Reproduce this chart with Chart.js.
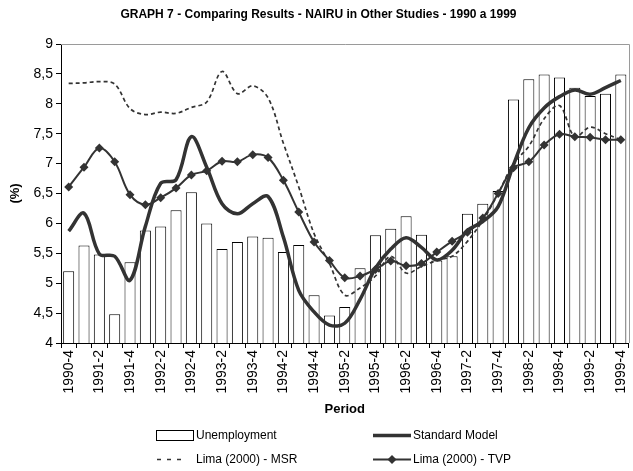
<!DOCTYPE html>
<html>
<head>
<meta charset="utf-8">
<script src="https://cdn.jsdelivr.net/npm/chart.js@4.4.1/dist/chart.umd.min.js"></script>
<style>
html,body{margin:0;padding:0;background:#fff;}
#wrap{width:633px;height:471px;}
</style>
</head>
<body>
<div id="wrap"><canvas id="c" width="633" height="471"></canvas></div>
<script>
// ---- data ----
const periods = ['1990-4',
  '1991-1','1991-2','1991-3','1991-4',
  '1992-1','1992-2','1992-3','1992-4',
  '1993-1','1993-2','1993-3','1993-4',
  '1994-1','1994-2','1994-3','1994-4',
  '1995-1','1995-2','1995-3','1995-4',
  '1996-1','1996-2','1996-3','1996-4',
  '1997-1','1997-2','1997-3','1997-4',
  '1998-1','1998-2','1998-3','1998-4',
  '1999-1','1999-2','1999-3','1999-4'];

const unemployment = [5.20, 5.63, 5.48, 4.48, 5.35, 5.88, 5.95, 6.22, 6.52, 6.00,
  5.57, 5.69, 5.78, 5.76, 5.52, 5.64, 4.80, 4.46, 4.60, 5.25,
  5.80, 5.91, 6.12, 5.81, 5.38, 5.45, 6.16, 6.33, 6.54, 8.07,
  8.41, 8.49, 8.44, 8.27, 8.13, 8.17, 8.49];

const standardModel = [5.87, 6.17, 5.49, 5.45, 5.05, 5.95, 6.67, 6.73, 7.45, 6.94,
  6.33, 6.16, 6.33, 6.45, 5.77, 4.88, 4.52, 4.30, 4.33, 4.73,
  5.25, 5.57, 5.76, 5.60, 5.39, 5.55, 5.88, 6.03, 6.28, 6.98,
  7.60, 7.93, 8.12, 8.23, 8.16, 8.27, 8.39];

const limaMSR = [8.34, 8.35, 8.37, 8.33, 7.92, 7.82, 7.86, 7.84, 7.94, 8.03,
  8.54, 8.17, 8.30, 8.10, 7.34, 6.61, 5.83, 5.33, 4.80, 4.92,
  5.12, 5.45, 5.17, 5.28, 5.38, 5.45, 5.70, 6.05, 6.50, 7.00,
  7.29, 7.75, 7.97, 7.45, 7.61, 7.50, 7.40];

const limaTVP = [6.61, 6.94, 7.26, 7.03, 6.48, 6.31, 6.43, 6.59, 6.81, 6.88,
  7.04, 7.03, 7.15, 7.10, 6.72, 6.19, 5.69, 5.38, 5.09, 5.12,
  5.23, 5.37, 5.29, 5.33, 5.52, 5.70, 5.85, 6.09, 6.50, 6.93,
  7.03, 7.31, 7.49, 7.45, 7.44, 7.40, 7.40];

const yTicks = ['4','4,5','5','5,5','6','6,5','7','7,5','8','8,5','9'];

const seriesNames = ['Unemployment', 'Standard Model', 'Lima (2000) - MSR', 'Lima (2000) - TVP'];
const chartTitle = 'GRAPH 7 - Comparing Results - NAIRU in Other Studies - 1990 a 1999';
const xTitle = 'Period';
const yTitle = '(%)';

// ---- styling ----
const FONT = "'Liberation Sans', Arial, sans-serif";
Chart.defaults.font.family = FONT;
Chart.defaults.color = '#000';
const LINE = '#333333';

// gray frame on top and right of the plot area
const plotFrame = {
  id: 'plotFrame',
  beforeDatasetsDraw(chart) {
    const a = chart.chartArea, ctx = chart.ctx;
    ctx.save();
    ctx.strokeStyle = '#9a9a9a';
    ctx.lineWidth = 1;
    ctx.beginPath();
    ctx.moveTo(a.left, Math.round(a.top) + 0.5);
    ctx.lineTo(Math.round(a.right) + 0.5, Math.round(a.top) + 0.5);
    ctx.lineTo(Math.round(a.right) + 0.5, a.bottom);
    ctx.stroke();
    ctx.restore();
  }
};

// two-column legend below the axis title
const gridLegend = {
  id: 'gridLegend',
  afterDraw(chart, args, opts) {
    const ctx = chart.ctx;
    const dss = chart.data.datasets;
    ctx.save();
    ctx.font = opts.font;
    ctx.textBaseline = 'middle';
    ctx.textAlign = 'left';
    dss.forEach((d, i) => {
      const col = i % 2, row = Math.floor(i / 2);
      const x = opts.cols[col], y = opts.rows[row];
      const w = opts.symbolWidth;
      const textX = x + w + 2;
      if (d.type === 'line') {
        ctx.strokeStyle = d.borderColor;
        ctx.lineWidth = d.borderWidth;
        ctx.beginPath();
        if (d.borderDash && d.borderDash.length) {
          ctx.setLineDash([4, 6]);
          ctx.moveTo(x + 1, y + 0.5);
          ctx.lineTo(x + 31, y + 0.5);
        } else {
          ctx.moveTo(x, y + 0.5);
          ctx.lineTo(x + w, y + 0.5);
        }
        ctx.stroke();
        ctx.setLineDash([]);
        if (d.pointRadius > 0) {
          const r = d.pointRadius;
          ctx.fillStyle = d.pointBackgroundColor;
          ctx.beginPath();
          ctx.moveTo(x + w / 2, y + 0.5 - r);
          ctx.lineTo(x + w / 2 + r, y + 0.5);
          ctx.lineTo(x + w / 2, y + 0.5 + r);
          ctx.lineTo(x + w / 2 - r, y + 0.5);
          ctx.closePath();
          ctx.fill();
        }
      } else {
        ctx.fillStyle = '#fff';
        ctx.strokeStyle = '#000';
        ctx.lineWidth = 1;
        ctx.fillRect(x + 0.5, y - 4.5, w - 1, 10);
        ctx.strokeRect(x + 0.5, y - 4.5, w - 1, 10);
      }
      ctx.fillStyle = '#000';
      ctx.fillText(d.label, textX, y + 1);
    });
    ctx.restore();
  }
};

new Chart(document.getElementById('c'), {
  type: 'bar',
  data: {
    labels: periods,
    datasets: [
      {
        type: 'bar', label: seriesNames[0], data: unemployment,
        backgroundColor: '#ffffff', borderColor: '#000000', borderWidth: 1,
        barPercentage: 0.72, categoryPercentage: 1.0, order: 10
      },
      {
        type: 'line', label: seriesNames[1], data: standardModel,
        borderColor: LINE, borderWidth: 3.5, pointRadius: 0, tension: 0.35,
        fill: false, order: 1
      },
      {
        type: 'line', label: seriesNames[2], data: limaMSR,
        borderColor: LINE, borderWidth: 1.7, borderDash: [4, 3], pointRadius: 0,
        tension: 0.35, fill: false, order: 3
      },
      {
        type: 'line', label: seriesNames[3], data: limaTVP,
        borderColor: LINE, borderWidth: 2, pointRadius: 4.5, pointStyle: 'rectRot',
        pointBackgroundColor: LINE, pointBorderColor: LINE, pointBorderWidth: 0,
        tension: 0.35, fill: false, order: 2
      }
    ]
  },
  options: {
    responsive: false,
    animation: false,
    events: [],
    layout: { padding: { top: 2, left: 6, right: 2, bottom: 54 } },
    plugins: {
      legend: { display: false },
      tooltip: { enabled: false },
      title: {
        display: true, text: chartTitle, color: '#000',
        font: { family: FONT, size: 12, weight: 'bold' },
        padding: { top: 5, bottom: 22.6 }
      },
      gridLegend: {
        font: "12px 'Liberation Sans', Arial, sans-serif",
        cols: [156, 373], rows: [435, 459], symbolWidth: 38
      }
    },
    scales: {
      x: {
        type: 'category',
        offset: true,
        border: { display: true, color: '#000', width: 1 },
        grid: { display: true, offset: true, drawOnChartArea: false, drawTicks: true,
                tickLength: 5, color: '#000' },
        ticks: {
          autoSkip: false, maxRotation: 90, minRotation: 90, padding: 2,
          font: { size: 14 }, color: '#000',
          callback: function (v, i) { return i % 2 === 0 ? periods[i] : ''; }
        },
        title: { display: true, text: xTitle, font: { size: 13, weight: 'bold' },
                 padding: { top: 0, bottom: 0 } },
        afterFit: function (s) { s.height = 74; s.paddingLeft = 0; s.paddingRight = 0; }
      },
      y: {
        min: 4, max: 9,
        border: { display: true, color: '#000', width: 1 },
        grid: { display: true, drawOnChartArea: false, drawTicks: true, tickLength: 5, color: '#000' },
        ticks: {
          stepSize: 0.5, padding: 3, font: { size: 14 }, color: '#000',
          callback: function (v, i) { return yTicks[i]; }
        },
        title: { display: true, text: yTitle, font: { size: 13, weight: 'bold' },
                 padding: { top: 2, bottom: 0 } },
        afterFit: function (s) { s.width = 55; s.paddingTop = 0; s.paddingBottom = 0; }
      }
    }
  },
  plugins: [plotFrame, gridLegend]
});
</script>
</body>
</html>
